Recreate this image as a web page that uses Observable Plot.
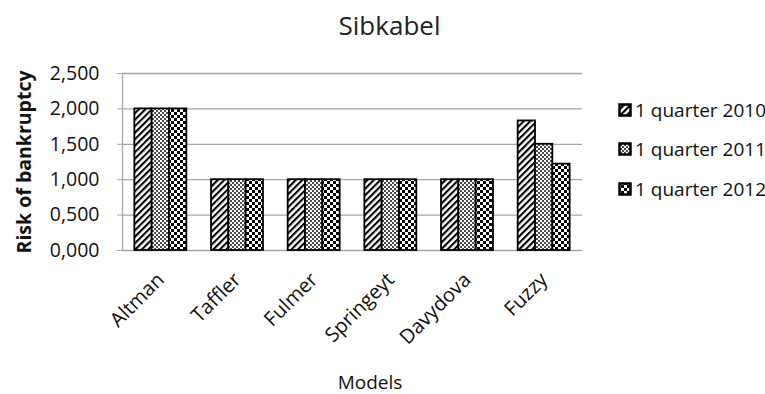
<!DOCTYPE html>
<html><head><meta charset="utf-8">
<script src="https://cdn.jsdelivr.net/npm/d3@7"></script>
<script src="https://cdn.jsdelivr.net/npm/@observablehq/plot@0.6"></script>
<style>
body{margin:0;background:#fff;font-family:"Open Sans",sans-serif;}
#wrap{position:relative;width:765px;height:394px;overflow:hidden;}
#title{height:58px;box-sizing:border-box;padding-top:7px;text-align:center;font-size:26px;color:#222;padding-left:14px;}
#legend{position:absolute;left:618px;top:90px;font-size:19px;color:#111;}
#legend .item{display:flex;align-items:center;height:39.5px;white-space:nowrap;}
#legend svg{margin-right:3px;}
#xlabel{position:absolute;left:0;width:740px;text-align:center;top:369px;font-size:19px;color:#111;}
</style></head><body>
<svg width="0" height="0" style="position:absolute">
<defs>
<pattern id="hatch" patternUnits="userSpaceOnUse" width="4.6" height="4.6" patternTransform="rotate(45)"><rect width="4.6" height="4.6" fill="white"/><rect width="2.1" height="4.6" fill="black"/></pattern>
<pattern id="dots" patternUnits="userSpaceOnUse" width="4" height="4"><rect width="4" height="4" fill="white"/><circle cx="1" cy="1" r="0.95" fill="black"/><circle cx="3" cy="3" r="0.95" fill="black"/></pattern>
<pattern id="checker" patternUnits="userSpaceOnUse" width="6" height="6"><rect width="6" height="6" fill="white"/><rect width="3" height="3" fill="black"/><rect x="3" y="3" width="3" height="3" fill="black"/></pattern>
</defs></svg>
<div id="wrap">
<div id="title">Sibkabel</div>
<div id="chart"></div>
<div id="legend"></div>
<div id="xlabel">Models</div>
</div>
<script>
const models = ["Altman", "Taffler", "Fulmer", "Springeyt", "Davydova", "Fuzzy"];
const series = ["1 quarter 2010", "1 quarter 2011", "1 quarter 2012"];
const v2010 = [2.0, 1.0, 1.0, 1.0, 1.0, 1.83];
const v2011 = [2.0, 1.0, 1.0, 1.0, 1.0, 1.50];
const v2012 = [2.0, 1.0, 1.0, 1.0, 1.0, 1.22];
const yTicks = [0, 0.5, 1.0, 1.5, 2.0, 2.5];
const patterns = ["url(#hatch)", "url(#dots)", "url(#checker)"];

const barW = 0.226;
const data = models.flatMap((m, i) =>
  [v2010, v2011, v2012].map((vals, s) => ({i, s, model: m, series: series[s], value: vals[i]})));

const chart = Plot.plot({
  width: 765, height: 336,
  marginLeft: 122, marginRight: 183, marginTop: 15, marginBottom: 144,
  x: {domain: [-0.5, 5.5]},
  y: {domain: [0, 2.5]},
  color: {domain: series, range: patterns, type: "ordinal"},
  style: {fontFamily: "'Open Sans', sans-serif", fontSize: "19.5px", color: "#111", background: "white"},
  marks: [
    Plot.gridY(yTicks, {stroke: "#a6a6a6", strokeOpacity: 1, strokeWidth: 1.3}),
    Plot.ruleX([-0.5], {stroke: "#a6a6a6", strokeWidth: 1.3}),
    Plot.rectY(data, {
      x1: d => d.i + (d.s - 1.5) * barW,
      x2: d => d.i + (d.s - 0.5) * barW,
      y: "value", fill: "series", stroke: "black", strokeWidth: 1.8
    }),
    Plot.axisY(yTicks, {
      tickFormat: d => d.toFixed(3).replace(".", ","),
      tickSize: 5, stroke: "#a6a6a6", tickPadding: 18,
      label: "Risk of bankruptcy", labelAnchor: "center", labelOffset: 105, labelArrow: "none"
    }),
    Plot.axisX(models.map((_, i) => i), {
      tickFormat: i => models[i], tickRotate: -45, tickSize: 0, tickPadding: 26, fontSize: 20,
      label: null
    })
  ]
});
document.getElementById("chart").appendChild(chart);
const yl = chart.querySelector('[aria-label="y-axis label"]');
if (yl) yl.setAttribute("font-weight", "bold");

const legend = d3.select("#legend");
series.forEach((s, k) => {
  const it = legend.append("div").attr("class", "item");
  const sw = it.append("svg").attr("width", 14).attr("height", 14);
  sw.append("rect").attr("x", 1.5).attr("y", 1.5).attr("width", 11).attr("height", 11)
    .attr("fill", patterns[k]).attr("stroke", "black").attr("stroke-width", 2.5);
  it.append("span").text(s);
});
</script>
</body></html>
